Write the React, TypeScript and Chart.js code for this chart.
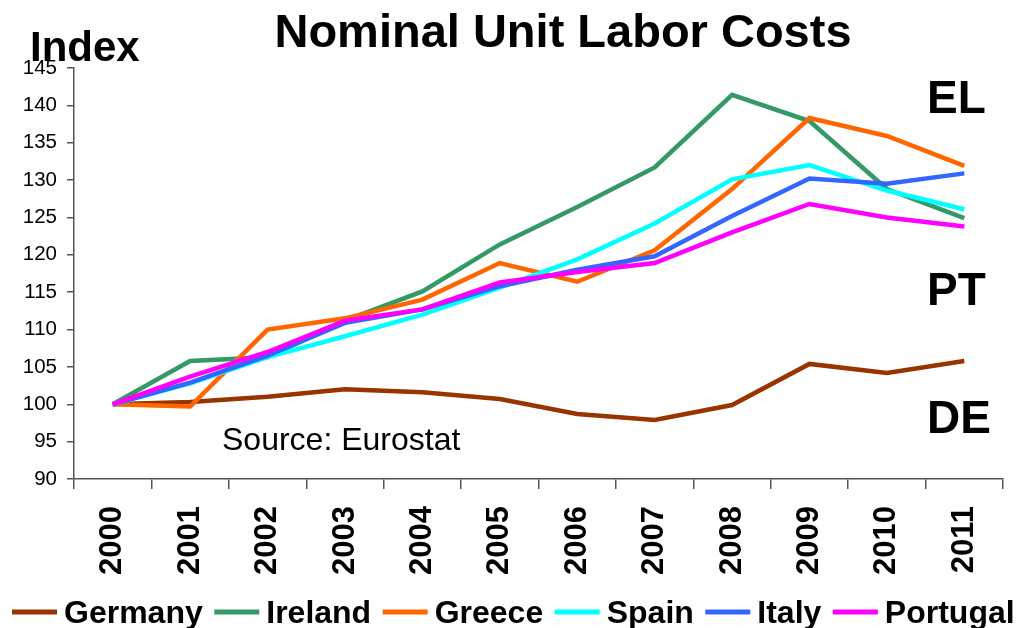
import React, { useEffect, useRef } from "react";
import { Chart, registerables } from "chart.js";

Chart.register(...registerables);

const years = ["2000", "2001", "2002", "2003", "2004", "2005", "2006", "2007", "2008", "2009", "2010", "2011"];
const germany = [100, 100.3, 101.0, 102.0, 101.6, 100.7, 98.7, 97.9, 99.9, 105.4, 104.2, 105.8];
const ireland = [100, 105.8, 106.3, 111.2, 115.1, 121.4, 126.4, 131.7, 141.4, 137.9, 128.8, 124.9];
const greece = [100, 99.7, 110.0, 111.5, 114.0, 118.9, 116.4, 120.6, 128.8, 138.3, 135.9, 131.9];
const spain = [100, 102.8, 106.3, 109.1, 112.0, 115.6, 119.4, 124.2, 130.1, 132.0, 128.6, 126.1];
const italy = [100, 102.9, 106.5, 110.9, 112.7, 115.8, 118.0, 119.8, 125.2, 130.2, 129.5, 130.9];
const portugal = [100, 103.7, 107.0, 111.2, 112.7, 116.3, 117.7, 118.9, 123.0, 126.8, 125.0, 123.8];
const seriesNames = ["Germany", "Ireland", "Greece", "Spain", "Italy", "Portugal"];
const seriesColors = ["#993300", "#339966", "#FF6600", "#00FFFF", "#3366FF", "#FF00FF"];
const yTicks = { min: 90, max: 145, step: 5 };

const FONT = '"Liberation Sans", Arial, Helvetica, sans-serif';

const textPlugin = {
  id: "customText",
  afterDraw(chart: any) {
    const ctx = chart.ctx;
    ctx.save();
    ctx.fillStyle = "#000";
    ctx.textBaseline = "alphabetic";
    // Title
    ctx.font = `bold 47px ${FONT}`;
    ctx.textAlign = "center";
    ctx.fillText("Nominal Unit Labor Costs", 563, 47);
    // Index
    ctx.textAlign = "left";
    ctx.font = `bold 42px ${FONT}`;
    ctx.fillText("Index", 30, 61);
    // Country labels
    ctx.font = `bold 46px ${FONT}`;
    ctx.fillText("EL", 927, 113);
    ctx.fillText("PT", 927, 305);
    ctx.fillText("DE", 927, 433);
    // Source
    ctx.font = `32px ${FONT}`;
    ctx.fillText("Source: Eurostat", 222, 450);

    // Legend
    ctx.font = `bold 32px ${FONT}`;
    let x = 12;
    const lineY = 612;
    const baseY = 623;
    chart.data.datasets.forEach((ds: any) => {
      ctx.strokeStyle = ds.borderColor;
      ctx.lineWidth = 5;
      ctx.lineCap = "butt";
      ctx.beginPath();
      ctx.moveTo(x, lineY);
      ctx.lineTo(x + 45, lineY);
      ctx.stroke();
      x += 52;
      ctx.fillStyle = "#000";
      ctx.fillText(ds.label, x, baseY);
      x += ctx.measureText(ds.label).width + 11.5;
    });
    ctx.restore();
  },
};

export default function App() {
  const canvasRef = useRef<HTMLCanvasElement | null>(null);

  useEffect(() => {
    document.body.style.margin = "0";
    const values = [germany, ireland, greece, spain, italy, portugal];
    const datasets = values.map((data, i) => ({
      label: seriesNames[i],
      data,
      borderColor: seriesColors[i],
      backgroundColor: seriesColors[i],
      borderWidth: 4.5,
      pointRadius: 0,
      pointHoverRadius: 0,
      tension: 0,
      fill: false,
      borderJoinStyle: "miter" as const,
      order: values.length - 1 - i,
    }));
    const chart = new Chart(canvasRef.current as HTMLCanvasElement, {
      type: "line",
      data: { labels: years, datasets },
      options: {
        animation: false,
        responsive: false,
        maintainAspectRatio: false,
        layout: { padding: { top: 68, right: 12, left: 0, bottom: 0 } },
        plugins: {
          legend: { display: false },
          title: { display: false },
          tooltip: { enabled: false },
        },
        scales: {
          x: {
            type: "category",
            offset: true,
            grid: {
              offset: true,
              drawOnChartArea: false,
              drawTicks: true,
              tickLength: 10,
              color: "#555",
              lineWidth: 1.5,
            },
            border: { display: true, color: "#555", width: 1.5 },
            ticks: {
              minRotation: 90,
              maxRotation: 90,
              autoSkip: false,
              padding: 17,
              color: "#000",
              font: { family: FONT, size: 31, weight: "bold" },
            },
            afterFit(scale: any) {
              scale.height = 149;
            },
          },
          y: {
            min: yTicks.min,
            max: yTicks.max,
            grid: {
              drawOnChartArea: false,
              drawTicks: true,
              tickLength: 7,
              color: "#555",
              lineWidth: 1.5,
            },
            border: { display: true, color: "#555", width: 1.5 },
            ticks: {
              stepSize: yTicks.step,
              padding: 10,
              color: "#000",
              font: { family: FONT, size: 20.5 },
            },
            afterFit(scale: any) {
              scale.width = 74;
            },
          },
        },
      },
      plugins: [textPlugin],
    });
    return () => chart.destroy();
  }, []);

  return (
    <div style={{ width: 1019, height: 628, background: "#fff" }}>
      <canvas ref={canvasRef} width={1019} height={628} style={{ display: "block" }} />
    </div>
  );
}
